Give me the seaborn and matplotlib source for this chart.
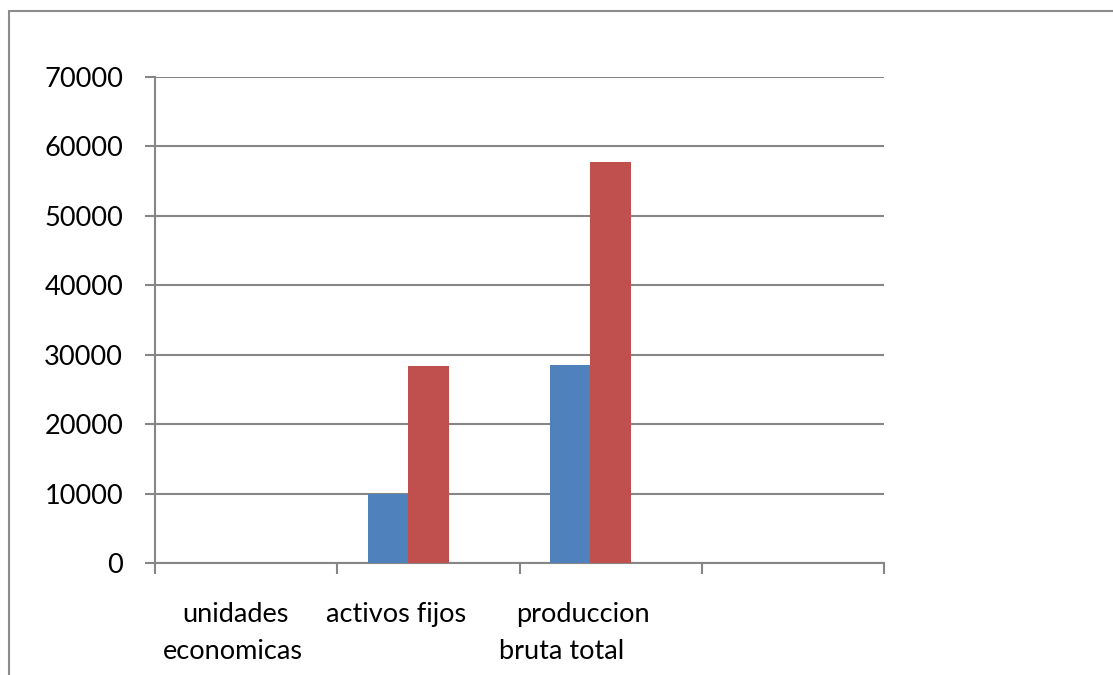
import numpy as np
import pandas as pd
import matplotlib
matplotlib.use("Agg")
import matplotlib.pyplot as plt
import matplotlib.transforms as mtransforms
from matplotlib.patches import Rectangle
import seaborn as sns

## Chart data
categories = ["unidades economicas", "activos fijos", "produccion bruta total", ""]
series_names = ["Serie 1", "Serie 2", "Serie 3"]
serie_1 = [0, 10000, 28500, 0]
serie_2 = [0, 28400, 57700, 0]
serie_3 = [0, 0, 0, 0]
y_ticks = [0, 10000, 20000, 30000, 40000, 50000, 60000, 70000]

# wrapped category labels as Excel draws them: (category index, line, x shift, line no.)
label_lines = [
    (0, "unidades", -0.058, 0),
    (0, "economicas", -0.075, 1),
    (1, "activos fijos", -0.175, 0),
    (2, "produccion", -0.154, 0),
    (2, "bruta total", -0.269, 1),
]

BLUE = "#4F81BD"
RED = "#C0504D"
GREEN = "#9BBB59"
GREY = "#868686"

n = len(categories)
df = pd.DataFrame({
    "categoria": categories * 3,
    "serie": [s for s in series_names for _ in range(n)],
    "valor": serie_1 + serie_2 + serie_3,
})

sns.set_style("white")
plt.rcParams["font.family"] = ["Lato", "DejaVu Sans"]

fig = plt.figure(figsize=(11.13, 6.75), dpi=100)
ax = fig.add_axes([155 / 1113, 1 - 563 / 675, (884 - 155) / 1113, (563 - 77) / 675])

# Excel default: gap width 150% -> 3 bars take 3/4.5 of each slot
sns.barplot(data=df, x="categoria", y="valor", hue="serie", order=categories,
            hue_order=series_names, palette=[BLUE, RED, GREEN], width=3 / 4.5,
            saturation=1, legend=False, ax=ax, zorder=3)
for p in ax.patches:
    p.set_edgecolor("none")

ax.set_xlim(-0.5, n - 0.5)
ax.set_ylim(0, 70000)
ax.set_yticks(y_ticks)
ax.set_yticklabels([str(v) for v in y_ticks], fontsize=19.5, color="black")
ax.yaxis.grid(True, color=GREY, linewidth=1.5, zorder=0)
ax.xaxis.grid(False)
ax.tick_params(axis="y", which="major", left=True, length=7, width=1.5,
               color=GREY, pad=16)

# category boundaries as tick marks, labels drawn separately
ax.set_xticks(np.arange(n))
ax.set_xticklabels([])
ax.tick_params(axis="x", which="major", length=0)
ax.set_xticks(np.arange(n + 1) - 0.5, minor=True)
ax.tick_params(axis="x", which="minor", bottom=True, length=8, width=1.5, color=GREY)
ax.set_xlabel("")
ax.set_ylabel("")

for side in ["top", "right"]:
    ax.spines[side].set_visible(False)
for side in ["left", "bottom"]:
    ax.spines[side].set_color(GREY)
    ax.spines[side].set_linewidth(1.5)

trans = mtransforms.blended_transform_factory(ax.transData, ax.transAxes)
baselines = [-59 / 486, -96 / 486]
for idx, text, dx, line in label_lines:
    ax.text(idx + dx, baselines[line], text, transform=trans, ha="center",
            va="baseline", fontsize=19.5, color="black")

# outer chart frame, cropped at right and bottom
fig.patches.append(Rectangle((9 / 1113, -0.1), 1.2, 1 - 11 / 675 + 0.1,
                             transform=fig.transFigure, fill=False,
                             edgecolor="#8c8c8c", linewidth=1.5))

fig.savefig("out.png", dpi=100)
